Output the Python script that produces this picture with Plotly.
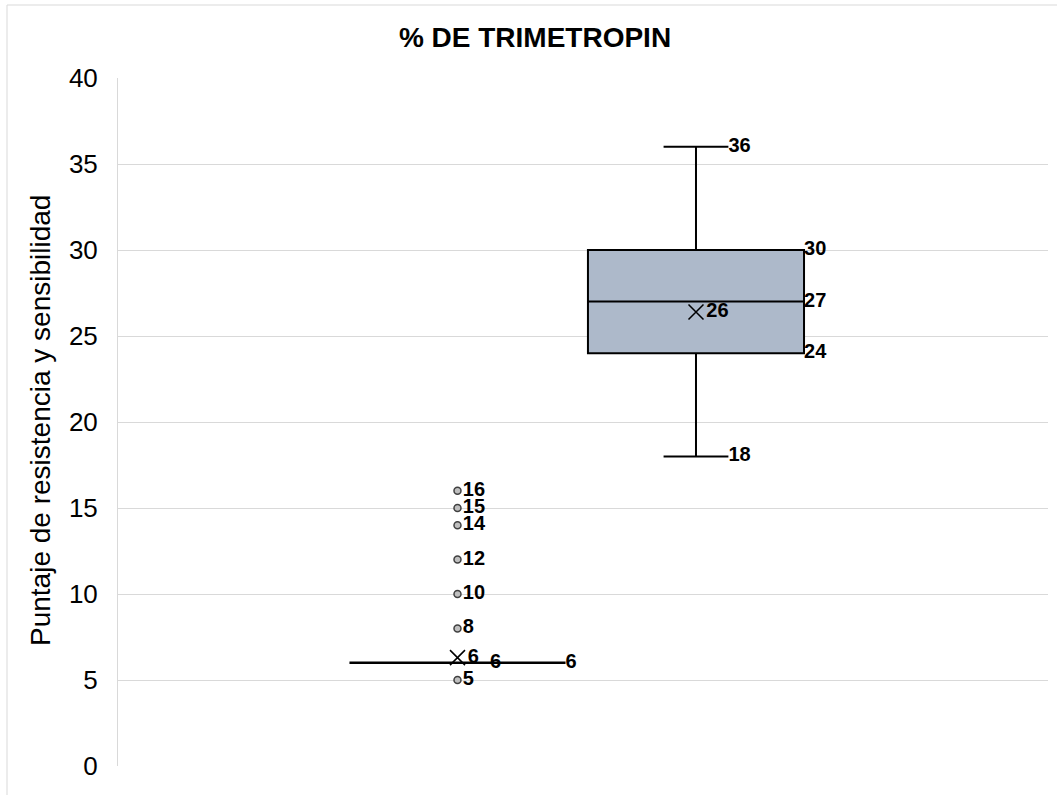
import plotly.graph_objects as go

# ---- data ----
title_text = "% DE TRIMETROPIN"
y_title = "Puntaje de resistencia y sensibilidad"
positions = [1, 2]
q1 = [6, 24]
median = [6, 27]
q3 = [6, 30]
lower = [6, 18]
upper = [6, 36]
means = [6.3, 26.4]
mean_labels = ["6", "26"]
outliers_box1 = [5, 8, 10, 12, 14, 15, 16]
y_ticks = [0, 5, 10, 15, 20, 25, 30, 35, 40]

# ---- geometry/style ----
BOX_W = 0.906
WHISK = 0.3
FILL = "#ADB9CA"
GRID = "#D9D9D9"
LBL_FONT = dict(family="Liberation Sans, Arial", size=20, color="#000000")


def b(s):
    return "<b>" + str(s) + "</b>"


fig = go.Figure()

for i, p in enumerate(positions):
    flat = q1[i] == q3[i]
    fig.add_trace(go.Box(
        x=[p], q1=[q1[i]], median=[median[i]], q3=[q3[i]],
        lowerfence=[lower[i]], upperfence=[upper[i]],
        width=BOX_W, whiskerwidth=WHISK,
        fillcolor="rgba(0,0,0,0)" if flat else FILL,
        line=dict(color="#000000", width=2.6 if flat else 2),
        boxpoints=False, hoverinfo="skip", showlegend=False,
    ))

# outliers (box 1)
fig.add_trace(go.Scatter(
    x=[positions[0]] * len(outliers_box1), y=outliers_box1,
    mode="markers+text", text=[b(v) for v in outliers_box1],
    textposition="middle right", textfont=LBL_FONT,
    marker=dict(symbol="circle", size=7, color="#BFBFBF", line=dict(width=1.5, color="#404040")),
    showlegend=False, hoverinfo="skip", cliponaxis=False,
))

# means
fig.add_trace(go.Scatter(
    x=positions, y=means, mode="markers+text", text=[b(v) for v in mean_labels],
    textposition="middle right", textfont=LBL_FONT,
    marker=dict(symbol="x-thin-open", size=15, color="#000000", line=dict(width=1.5, color="#000000")),
    showlegend=False, hoverinfo="skip", cliponaxis=False,
))

# labels at box right edge (q1, median, q3) and whisker caps
for i, p in enumerate(positions):
    xs_edge = p + BOX_W / 2
    xs_whisk = p + BOX_W * WHISK / 2
    if q1[i] != q3[i]:
        ev = [q3[i], median[i], q1[i]]
    else:
        ev = [q3[i]]
    fig.add_trace(go.Scatter(
        x=[xs_edge] * len(ev), y=ev, mode="text", text=[b(v) for v in ev],
        textposition="middle right", textfont=LBL_FONT,
        showlegend=False, hoverinfo="skip", cliponaxis=False))
    if lower[i] != upper[i]:
        wv = [upper[i], lower[i]]
    else:
        wv = [upper[i]]
    fig.add_trace(go.Scatter(
        x=[xs_whisk] * len(wv), y=wv, mode="text", text=[b(v) for v in wv],
        textposition="middle right", textfont=LBL_FONT,
        showlegend=False, hoverinfo="skip", cliponaxis=False))

L, R, T, B = 118, 9, 78, 29
W, H = 1057, 795
pw, ph = W - L - R, H - T - B

fig.update_layout(
    width=W, height=H,
    margin=dict(l=L, r=R, t=T, b=B),
    paper_bgcolor="white", plot_bgcolor="white",
    font=dict(family="Liberation Sans, Arial", color="#000000"),
    title=dict(text=b(title_text), x=535 / W, xref="container",
               xanchor="center", y=1 - 37 / H, yref="container", yanchor="middle",
               font=dict(size=28, color="#000000")),
    xaxis=dict(type="linear", range=[-0.4235, 3.476], showticklabels=False,
               showgrid=False, zeroline=False, showline=False, ticks=""),
    yaxis=dict(range=[0, 40], tickvals=y_ticks, showgrid=True, gridcolor=GRID,
               gridwidth=1, zeroline=False, showline=True, linecolor=GRID,
               linewidth=1, ticks="", ticklabelstandoff=14,
               tickfont=dict(size=26, color="#000000")),
    annotations=[dict(text=y_title, xref="paper", yref="paper",
                      x=(40 - L) / pw, y=(766 - 421) / ph, textangle=-90, showarrow=False,
                      xanchor="center", yanchor="middle",
                      font=dict(size=28, color="#000000"))],
    shapes=[dict(type="rect", xref="paper", yref="paper",
                 x0=(7 - L) / pw, x1=(W + 10 - L) / pw,
                 y0=-(B + 10) / ph, y1=(766 - 5) / ph,
                 line=dict(color=GRID, width=1), layer="below")],
)

fig.write_html("out.html")
